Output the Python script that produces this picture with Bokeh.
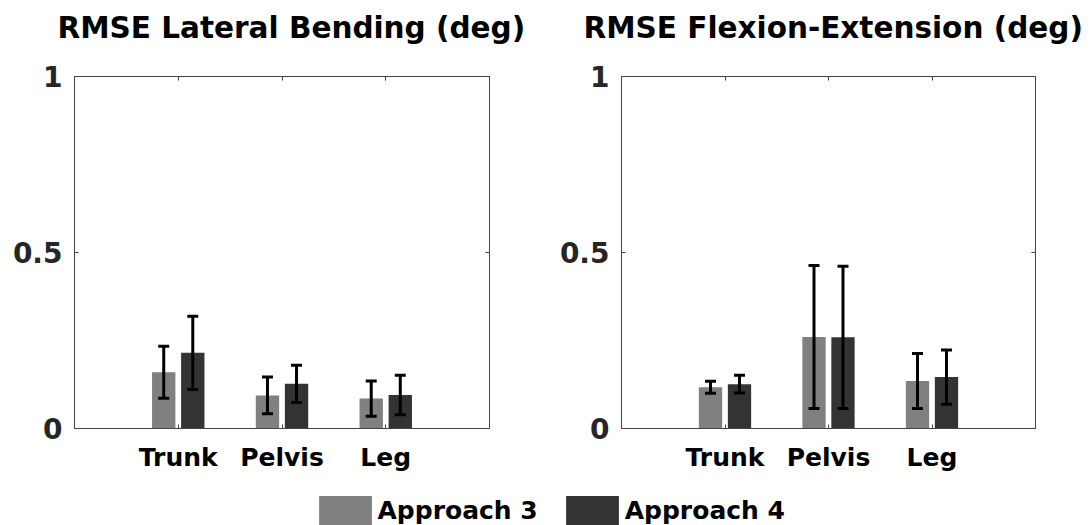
from bokeh.plotting import figure
from bokeh.models import (ColumnDataSource, FixedTicker, LinearAxis, Whisker, TeeHead,
                          Range1d, Legend, LegendItem, CustomLabelingPolicy)
from bokeh.layouts import column, row
from bokeh.embed import file_html
from bokeh.resources import INLINE

# ---- data ----
categories = ["Trunk", "Pelvis", "Leg"]
series = ["Approach 3", "Approach 4"]
titles = ["RMSE Lateral Bending (deg)", "RMSE Flexion-Extension (deg)"]

lat_a3_mean = [0.160, 0.094, 0.085]
lat_a3_sd = [0.074, 0.052, 0.050]
lat_a4_mean = [0.215, 0.127, 0.095]
lat_a4_sd = [0.104, 0.053, 0.056]

flex_a3_mean = [0.117, 0.260, 0.135]
flex_a3_sd = [0.017, 0.203, 0.078]
flex_a4_mean = [0.126, 0.259, 0.146]
flex_a4_sd = [0.025, 0.202, 0.077]

y_ticks = [0, 0.5, 1]
y_tick_labels = ["0", "0.5", "1"]

# ---- style ----
colors = ["#808080", "#333333"]
FONT = "DejaVu Sans"
AX = "#444444"
OFFSET = 0.14
BAR_W = 0.225

no_labels = CustomLabelingPolicy(code="for (const i of indices) { indices.unset(i) } return indices")


def make_panel(title, title_offset, m3, m4, s3, s4, left_border, right_border, frame_w):
    p = figure(width=left_border + frame_w + right_border, height=478,
               frame_width=frame_w, frame_height=352,
               x_range=Range1d(0, len(categories) + 1), y_range=Range1d(0, 1),
               toolbar_location=None, output_backend="svg",
               min_border_left=left_border, min_border_right=right_border,
               min_border_top=76, min_border_bottom=50,
               x_axis_location=None, y_axis_location=None)
    p.title.text = title
    p.title.text_font = FONT
    p.title.text_font_style = "bold"
    p.title.text_font_size = "29.5px"
    p.title.align = "left"
    p.title.offset = title_offset
    p.title.standoff = 12
    p.title.text_color = "black"
    p.grid.visible = False
    p.outline_line_color = AX
    p.outline_line_width = 1
    p.background_fill_color = "white"

    pos = [i + 1 for i in range(len(categories))]
    for k, (m, s) in enumerate([(m3, s3), (m4, s4)]):
        xs = [x + (2 * k - 1) * OFFSET for x in pos]
        src = ColumnDataSource(dict(x=xs, top=m,
                                    upper=[a + b for a, b in zip(m, s)],
                                    lower=[a - b for a, b in zip(m, s)]))
        p.vbar(x="x", top="top", bottom=0, width=BAR_W, source=src,
               fill_color=colors[k], line_color=None)
        w = Whisker(source=src, base="x", upper="upper", lower="lower",
                    line_color="black", line_width=3, level="annotation",
                    upper_head=TeeHead(size=11, line_width=3, line_color="black"),
                    lower_head=TeeHead(size=11, line_width=3, line_color="black"))
        p.add_layout(w)

    # axes (MATLAB-like box with inward ticks on all four sides)
    xb = LinearAxis(ticker=FixedTicker(ticks=pos),
                    major_label_overrides={x: c for x, c in zip(pos, categories)})
    xt = LinearAxis(ticker=FixedTicker(ticks=pos), major_label_policy=no_labels)
    yl = LinearAxis(ticker=FixedTicker(ticks=y_ticks),
                    major_label_overrides={t: l for t, l in zip(y_ticks, y_tick_labels)})
    yr = LinearAxis(ticker=FixedTicker(ticks=y_ticks), major_label_policy=no_labels)
    for ax in (xb, xt, yl, yr):
        ax.axis_line_color = AX
        ax.major_tick_line_color = AX
        ax.major_tick_in = 4
        ax.major_tick_out = 0
        ax.minor_tick_line_color = None
        ax.major_label_text_font = FONT
        ax.major_label_text_font_style = "bold"
        ax.major_label_text_color = "black"
    yr.major_label_standoff = 0
    xt.major_label_standoff = 15
    xb.major_label_text_font_size = "25px"
    xb.major_label_standoff = 14
    yl.major_label_text_font_size = "28px"
    yl.major_label_text_color = "#262626"
    yl.major_label_standoff = 12
    p.add_layout(xb, "below")
    p.add_layout(xt, "above")
    p.add_layout(yl, "left")
    p.add_layout(yr, "right")
    return p, pos


p1, pos = make_panel(titles[0], -17, lat_a3_mean, lat_a4_mean, lat_a3_sd, lat_a4_sd, 74, 50, 415)
p2, _ = make_panel(titles[1], -38, flex_a3_mean, flex_a4_mean, flex_a3_sd, flex_a4_sd, 82, 57, 414)

# legend strip below both panels; its renderers are hidden, only the legend shows
leg = figure(width=1092, height=47, x_range=Range1d(0, 4), y_range=Range1d(0, 1),
             toolbar_location=None, output_backend="svg", min_border=0,
             x_axis_location=None, y_axis_location=None)
leg.grid.visible = False
leg.outline_line_color = None
items = []
for k, (name, m) in enumerate(zip(series, [lat_a3_mean, lat_a4_mean])):
    r = leg.vbar(x=pos, top=m, bottom=0, width=BAR_W, fill_color=colors[k], line_color=None)
    r.visible = False
    items.append(LegendItem(label=name, renderers=[r]))
legend = Legend(items=items, orientation="horizontal", location=(311.5, -3),
                glyph_width=66, glyph_height=36, label_standoff=0, spacing=21,
                padding=0, margin=0, border_line_color=None, background_fill_alpha=0,
                label_text_font=FONT, label_text_font_style="bold",
                label_text_font_size="25px", label_text_color="black")
leg.add_layout(legend)

layout = column(row(p1, p2), leg)
open("out.html", "w").write(file_html(layout, INLINE))
